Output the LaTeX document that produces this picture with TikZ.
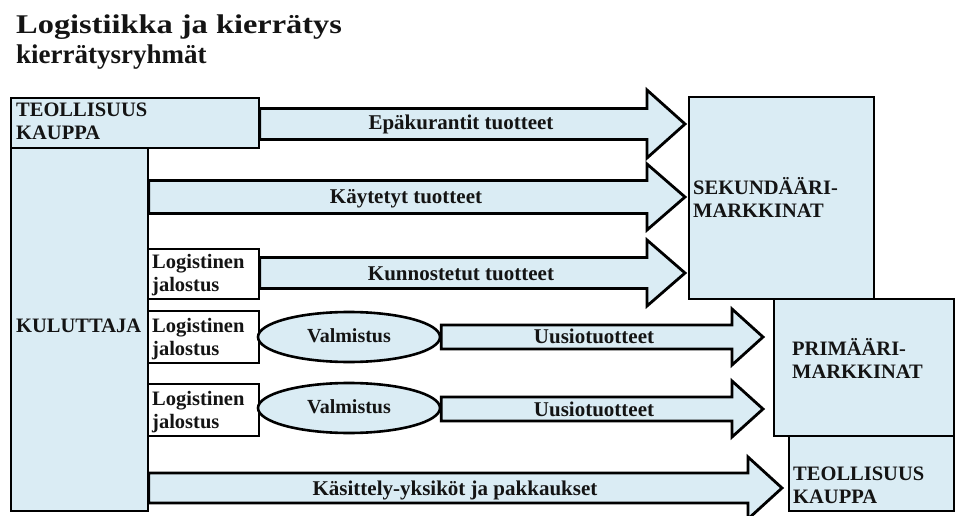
\documentclass[tikz,border=0pt]{standalone}
\usepackage{graphicx}
\usepackage{fontspec}
\setmainfont{Liberation Serif}
\usetikzlibrary{calc,shapes.geometric}
\definecolor{paleblue}{RGB}{218,236,244}
\definecolor{ink}{RGB}{20,20,20}
\tikzset{
  box/.style={draw=black, line width=1.6pt, fill=paleblue, inner sep=0pt, anchor=north west},
  whitebox/.style={box, fill=white},
  oval/.style={ellipse, draw=black, line width=2.6pt, fill=paleblue, inner sep=0pt},
  blockarr/.style={draw=black, line width=2.8pt, fill=paleblue, line join=miter},
  txt/.style={anchor=base west, inner sep=0pt, text=ink, font=\fontsize{20.5}{23}\selectfont\bfseries, align=left},
  lab/.style={anchor=base, inner sep=0pt, text=ink, font=\fontsize{21}{24}\selectfont\bfseries},
  ovaltxt/.style={lab, font=\fontsize{20}{24}\selectfont\bfseries},
}
% block arrow: start node anchor, tip point, body half height, head half height, head length
\newcommand\blockarrow[5]{%
  \draw[blockarr] let \p1=(#1), \p2=(#2) in
    (\x1,\y2+#3) -- (\x2-#5,\y2+#3) -- (\x2-#5,\y2+#4) -- (\x2,\y2)
    -- (\x2-#5,\y2-#4) -- (\x2-#5,\y2-#3) -- (\x1,\y2-#3) -- cycle;}
\begin{document}
\begin{tikzpicture}[x=1pt,y=-1pt]
  \fill[white] (0,0) rectangle (956,516);
  \useasboundingbox (0,0) rectangle (956,516);

  % headings
  \node[anchor=base west, inner sep=0pt, text=ink, font=\fontsize{27}{30}\selectfont\bfseries] (title) at (16,34) {\scalebox{1.2}[1]{Logistiikka ja kierrätys}};
  \node[anchor=base west, inner sep=0pt, text=ink, font=\fontsize{27}{30}\selectfont\bfseries] (subtitle) at (16,64) {kierrätysryhmät};

  % sources and markets
  \node[box, minimum width=248pt, minimum height=50pt] (tp) at (10,97) {};
  \node[box, minimum width=137pt, minimum height=363pt] (kul) at (10,147) {};
  \node[box, minimum width=185pt, minimum height=202pt] (sek) at (688,96) {};
  \node[box, minimum width=180pt, minimum height=137pt] (prim) at (773,298) {};
  \node[box, minimum width=165pt, minimum height=75pt] (tk) at (788,435) {};

  % processing steps
  \node[whitebox, minimum width=111pt, minimum height=50pt] (lj1) at (147,248) {};
  \node[whitebox, minimum width=111pt, minimum height=52pt] (lj2) at (147,310) {};
  \node[whitebox, minimum width=111pt, minimum height=52pt] (lj3) at (147,383) {};
  \node[oval, minimum width=182pt, minimum height=50pt] (val1) at (349,337) {};
  \node[oval, minimum width=182pt, minimum height=50pt] (val2) at (349,408) {};

  % box texts (anchored at the baseline of the last line)
  \node[txt] (tptxt) at (16,140) {TEOLLISUUS\\KAUPPA};
  \node[txt] (kultxt) at (16,332) {KULUTTAJA};
  \node[txt] (sektxt) at (693,217) {SEKUNDÄÄRI-\\MARKKINAT};
  \node[txt] (primtxt) at (792,378) {PRIMÄÄRI-\\MARKKINAT};
  \node[txt] (tktxt) at (793,503) {TEOLLISUUS\\KAUPPA};
  \node[txt] (lj1txt) at (152,291) {Logistinen\\jalostus};
  \node[txt] (lj2txt) at (152,355) {Logistinen\\jalostus};
  \node[txt] (lj3txt) at (152,428) {Logistinen\\jalostus};
  \node[ovaltxt] (val1txt) at (349,342) {Valmistus};
  \node[ovaltxt] (val2txt) at (349,413) {Valmistus};

  % arrow tips
  \coordinate (t1) at ([xshift=-3pt]sek.west |- 0,124);
  \coordinate (t2) at ([xshift=-3pt]sek.west |- 0,197);
  \coordinate (t3) at ([xshift=-3pt]sek.west |- 0,273);
  \coordinate (t4) at ([xshift=-10pt]prim.west |- 0,337);
  \coordinate (t5) at ([xshift=-10pt]prim.west |- 0,409);
  \coordinate (t6) at ([xshift=-6pt]tk.west |- 0,488);

  % flows
  \blockarrow{tp.east}{t1}{15.5pt}{34pt}{38pt}
  \blockarrow{kul.east}{t2}{16.5pt}{33pt}{38pt}
  \blockarrow{lj1.east}{t3}{15.5pt}{33pt}{38pt}
  \blockarrow{val1.east}{t4}{12pt}{28pt}{31pt}
  \blockarrow{val2.east}{t5}{12pt}{28pt}{31pt}
  \blockarrow{kul.east}{t6}{15pt}{31pt}{34pt}

  % flow labels
  \node[lab] (l1) at (461,130) {Epäkurantit tuotteet};
  \node[lab] (l2) at (406,203) {Käytetyt tuotteet};
  \node[lab] (l3) at (461,280) {Kunnostetut tuotteet};
  \node[lab] (l4) at (594,343) {Uusiotuotteet};
  \node[lab] (l5) at (594,416) {Uusiotuotteet};
  \node[lab] (l6) at (455,495) {Käsittely-yksiköt ja pakkaukset};
\end{tikzpicture}
\end{document}
